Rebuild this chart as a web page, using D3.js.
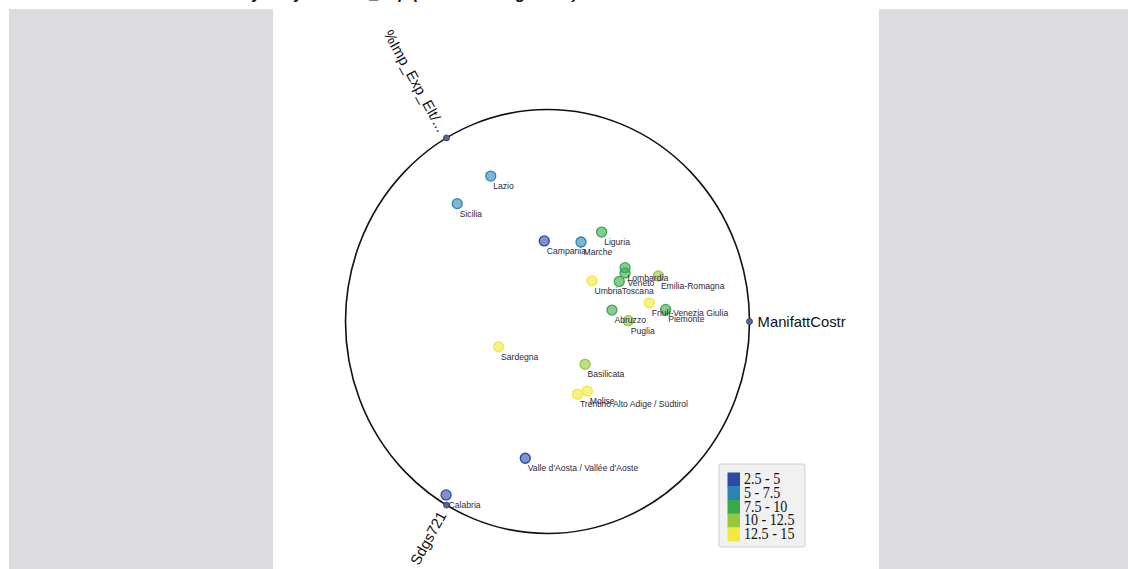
<!DOCTYPE html>
<html lang="en">
<head>
    <meta charset="UTF-8">
    <title>RadViz regioni</title>
    <script src="https://d3js.org/d3.v7.min.js"></script>
    <style>
        body { margin: 0; background: #fff; }
        svg { display: block; }
        .side { fill: #dcdcde; }
        .pt-label { font: 8.6px "Liberation Sans", Arial, sans-serif; fill: #2a2a3a; }
        .axis-label { font: 14.8px "Liberation Sans", Arial, sans-serif; fill: #111; }
        .legend-label { font: 16px "Liberation Serif", serif; fill: #111; }
        .chart-title { font: italic bold 17px "Liberation Sans", Arial, sans-serif; fill: #111; }
    </style>
</head>
<body>
    <svg width="1128" height="569"></svg>
    <script>
        // regions, radviz position (unit circle coords) and the colour variable
        const regions = ["Lazio", "Sicilia", "Campania", "Marche", "Liguria", "Lombardia", "Veneto",
            "Toscana", "Umbria", "Emilia-Romagna", "Friuli-Venezia Giulia", "Piemonte", "Abruzzo",
            "Puglia", "Sardegna", "Basilicata", "Molise", "Trentino Alto Adige / Südtirol",
            "Valle d'Aosta / Vallée d'Aoste", "Calabria"];
        const radX = [-0.281, -0.447, -0.016, 0.166, 0.268, 0.384, 0.384, 0.355, 0.220, 0.549,
            0.504, 0.585, 0.319, 0.400, -0.242, 0.186, 0.197, 0.148, -0.110, -0.502];
        const radY = [0.686, 0.556, 0.380, 0.375, 0.422, 0.254, 0.229, 0.189, 0.192, 0.215,
            0.087, 0.057, 0.054, 0.004, -0.119, -0.202, -0.328, -0.343, -0.645, -0.818];
        const colourValue = [6.2, 6.8, 4.1, 6.5, 8.4, 8.9, 9.1, 8.7, 13.2, 11.1,
            13.6, 8.3, 9.4, 11.4, 13.9, 11.8, 14.1, 13.4, 3.6, 4.4];

        const anchorNames = ["ManifattCostr", "%Imp_Exp_Elt/...", "Sdgs721"];
        const anchorAngles = [0, 120, 240];

        const legendLabels = ["2.5 - 5", "5 - 7.5", "7.5 - 10", "10 - 12.5", "12.5 - 15"];
        const legendBreaks = [5, 7.5, 10, 12.5];

        // only the descenders of the title show at the top edge
        const titleText = "Radviz by IT by Manifatt_Exp (Indicatori Regionale)";

        const svg = d3.select("svg");

        // grey side panels
        svg.append("rect").attr("class", "side").attr("x", 9).attr("y", 9).attr("width", 264).attr("height", 560);
        svg.append("rect").attr("class", "side").attr("x", 879).attr("y", 9).attr("width", 249).attr("height", 560);

        svg.append("text").attr("class", "chart-title")
            .attr("x", 186).attr("y", -0.8)
            .attr("textLength", 392).attr("lengthAdjust", "spacingAndGlyphs")
            .text(titleText);

        const x = d3.scaleLinear().domain([-1, 1]).range([345.5, 749.5]);
        const y = d3.scaleLinear().domain([-1, 1]).range([533.5, 109.5]);

        const colour = d3.scaleThreshold()
            .domain(legendBreaks)
            .range(["#2a4aa6", "#2a84b4", "#3aa94e", "#95c83c", "#f2e83e"]);

        const g = svg.append("g");

        g.append("ellipse")
            .attr("cx", x(0)).attr("cy", y(0))
            .attr("rx", x(1) - x(0)).attr("ry", y(0) - y(1))
            .attr("fill", "none").attr("stroke", "#111").attr("stroke-width", 1.6);

        const anchors = anchorNames.map((name, i) => {
            const a = anchorAngles[i] * Math.PI / 180;
            return { name, a, cx: Math.cos(a), cy: Math.sin(a) };
        });

        g.selectAll(".anchor").data(anchors).enter().append("circle")
            .attr("class", "anchor")
            .attr("cx", d => x(d.cx)).attr("cy", d => y(d.cy))
            .attr("r", 3)
            .attr("fill", "#5b6594").attr("stroke", "#2e3868").attr("stroke-width", 0.8);

        // anchor labels: right side reads outward, left side reads inward
        g.selectAll(".axis-label").data(anchors).enter().append("text")
            .attr("class", "axis-label")
            .attr("dy", "0.35em")
            .attr("text-anchor", d => d.cx >= 0 ? "start" : "end")
            .attr("transform", d => {
                const px = x(d.cx * 1.04), py = y(d.cy * 1.04);
                const ang = Math.atan2(y(d.cy) - y(0), x(d.cx) - x(0)) * 180 / Math.PI;
                const rot = d.cx >= 0 ? ang : ang + 180;
                return `translate(${px},${py}) rotate(${rot})`;
            })
            .text(d => d.name);

        const points = regions.map((name, i) => ({ name, u: radX[i], v: radY[i], val: colourValue[i] }));

        g.selectAll(".pt").data(points).enter().append("circle")
            .attr("class", "pt")
            .attr("cx", d => x(d.u)).attr("cy", d => y(d.v))
            .attr("r", 5)
            .attr("fill", d => colour(d.val)).attr("fill-opacity", 0.6)
            .attr("stroke", d => colour(d.val)).attr("stroke-width", 1.3);

        g.selectAll(".pt-label").data(points).enter().append("text")
            .attr("class", "pt-label")
            .attr("x", d => x(d.u) + 2.5)
            .attr("y", d => y(d.v) + 13)
            .text(d => d.name);

        // legend
        const legend = svg.append("g").attr("transform", "translate(719,464)");
        legend.append("rect")
            .attr("width", 86).attr("height", 83).attr("rx", 2)
            .attr("fill", "#f1f1f1").attr("stroke", "#cfcfcf");
        const band = d3.scaleBand().domain(legendLabels).range([8.5, 77]);
        legend.selectAll(".sw").data(legendLabels).enter().append("rect")
            .attr("class", "sw")
            .attr("x", 8.5).attr("y", d => band(d))
            .attr("width", 12.5).attr("height", band.bandwidth() + 0.5)
            .attr("fill", (d, i) => colour.range()[i]);
        legend.selectAll(".legend-label").data(legendLabels).enter().append("text")
            .attr("class", "legend-label")
            .attr("transform", d => `translate(25,${band(d) + band.bandwidth() / 2 + 5}) scale(0.88,1)`)
            .text(d => d);
    </script>
</body>
</html>
